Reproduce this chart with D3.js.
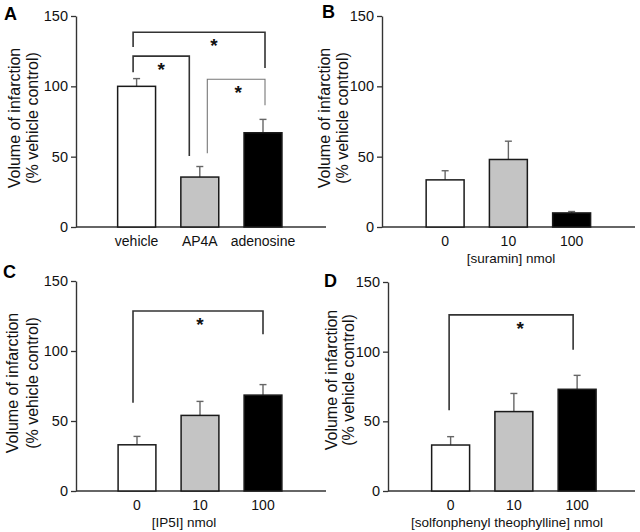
<!DOCTYPE html>
<html>
<head>
<meta charset="utf-8">
<script src="https://cdn.jsdelivr.net/npm/d3@7"></script>
<style>
  html, body { margin: 0; padding: 0; background: #fff; }
  svg { display: block; font-family: "Liberation Sans", Arial, Helvetica, sans-serif; }
</style>
</head>
<body>
<svg id="chart" width="640" height="532"></svg>
<script>
// ---------------- DATA ----------------
const yTickValues = [0, 50, 100, 150];
const yAxisLabelLine1 = "Volume of infarction";
const yAxisLabelLine2 = "(% vehicle control)";

const categoriesA = ["vehicle", "AP4A", "adenosine"];
const meansA = [100, 35.5, 67];
const errorsA = [5.5, 7.5, 9.5];

const doseCategories = ["0", "10", "100"];

const meansB = [33.5, 48, 10];
const errorsB = [6.5, 13, 1];

const meansC = [33, 54, 68.5];
const errorsC = [6, 10, 7.5];

const meansD = [33, 57, 73];
const errorsD = [6, 13, 10];

const barFills = ["#ffffff", "#c4c4c4", "#000000"];

// significance brackets: [fromIndex, toIndex, topValue, leftLegEndValue, rightLegEndValue]
const bracketsA = [[0, 2, 138.5, 128, 113], [0, 1, 121.5, 110, 50.5], [1, 2, 105, 52.5, 86.5]];
const bracketsC = [[0, 2, 128.6, 63, 112]];
const bracketsD = [[0, 2, 126.4, 58, 101.4]];

// ---------------- LAYOUT ----------------
const panels = [
  { letter: "A", lx: 4, ly: 20, cats: categoriesA, means: meansA, errs: errorsA, brackets: bracketsA,
    x0: 76, x1: 326, yTop: 16, yBot: 227, barStart: 29, step: 63.2,
    labelBase: [20, 38], labelCy: 118, xlabel: null,
    bracketDx: [[-3.5, 2, 15], [-3.5, -10.5, 0], [7.5, 2, 2]], bracketStyle: ["#333", "#333", "#777"], bracketW: [1.6, 1.6, 1.1] },
  { letter: "B", lx: 322, ly: 18, cats: doseCategories, means: meansB, errs: errorsB, brackets: [],
    x0: 382, x1: 635, yTop: 16, yBot: 227, barStart: 31.5, step: 63.25,
    labelBase: [330, 348], labelCy: 118, xlabel: "[suramin] nmol", xlabelX: 511, xlabelY: 263 },
  { letter: "C", lx: 3, ly: 278, cats: doseCategories, means: meansC, errs: errorsC, brackets: bracketsC,
    x0: 76, x1: 326, yTop: 281, yBot: 491, barStart: 29.5, step: 63,
    labelBase: [18, 38], labelCy: 383, xlabel: "[IP5I] nmol", xlabelX: 184, xlabelY: 527,
    bracketDx: [[-4, 0, 2]], bracketStyle: ["#333"], bracketW: [1.6] },
  { letter: "D", lx: 324, ly: 287, cats: doseCategories, means: meansD, errs: errorsD, brackets: bracketsD,
    x0: 388, x1: 635, yTop: 282, yBot: 491, barStart: 31, step: 63.25,
    labelBase: [337, 354], labelCy: 380, xlabel: "[solfonphenyl theophylline] nmol", xlabelX: 507, xlabelY: 527,
    bracketDx: [[-1.5, -4, 9]], bracketStyle: ["#333"], bracketW: [1.6] }
];

const svg = d3.select("#chart");

panels.forEach(p => {
  const g = svg.append("g");
  const y = d3.scaleLinear().domain([0, 150]).range([p.yBot, p.yTop]);
  const xStart = p.x0 + p.barStart;
  const x = d3.scaleBand().domain(p.cats)
    .range([xStart, xStart + 3 * p.step])
    .paddingInner(0.4).paddingOuter(0.2);

  // y axis
  const yAxis = d3.axisLeft(y).tickValues(yTickValues).tickSize(5).tickSizeOuter(0).tickPadding(3);
  const ya = g.append("g").attr("transform", `translate(${p.x0},0)`).call(yAxis);
  ya.select(".domain").attr("stroke", "#333").attr("stroke-width", 1.4);
  ya.selectAll(".tick line").attr("stroke", "#333").attr("stroke-width", 1.3);
  ya.selectAll(".tick text").attr("font-size", 14.5).attr("fill", "#111")
    .attr("font-family", "Liberation Sans, Arial, sans-serif");

  // x baseline
  g.append("line").attr("x1", p.x0).attr("x2", p.x1)
    .attr("y1", y(0)).attr("y2", y(0))
    .attr("stroke", "#333").attr("stroke-width", 1.4);

  // x tick labels
  const xAxis = d3.axisBottom(x).tickSize(0).tickPadding(9);
  const xa = g.append("g").attr("transform", `translate(0,${y(0)})`).call(xAxis);
  xa.select(".domain").remove();
  xa.selectAll(".tick text").attr("font-size", 14).attr("fill", "#111")
    .attr("font-family", "Liberation Sans, Arial, sans-serif");

  // error bars (upper only)
  const capHalf = 3.5;
  p.cats.forEach((c, i) => {
    const cx = x(c) + x.bandwidth() / 2;
    const top = y(p.means[i] + p.errs[i]);
    g.append("line").attr("x1", cx).attr("x2", cx).attr("y1", y(p.means[i])).attr("y2", top)
      .attr("stroke", "#666").attr("stroke-width", 1.4);
    g.append("line").attr("x1", cx - capHalf).attr("x2", cx + capHalf).attr("y1", top).attr("y2", top)
      .attr("stroke", "#666").attr("stroke-width", 1.4);
  });

  // bars
  g.selectAll("rect.bar").data(p.means).enter().append("rect")
    .attr("class", "bar")
    .attr("x", (d, i) => x(p.cats[i]))
    .attr("y", d => y(d))
    .attr("width", x.bandwidth())
    .attr("height", d => y(0) - y(d))
    .attr("fill", (d, i) => barFills[i])
    .attr("stroke", "#1a1a1a").attr("stroke-width", 1.5);

  // significance brackets
  p.brackets.forEach((b, k) => {
    const [fi, ti, topV, lEnd, rEnd] = b;
    const [dxl, dxr, sdx] = p.bracketDx[k];
    const xl = x(p.cats[fi]) + x.bandwidth() / 2 + dxl;
    const xr = x(p.cats[ti]) + x.bandwidth() / 2 + dxr;
    const yt = y(topV);
    g.append("path")
      .attr("d", `M${xl},${y(lEnd)}V${yt}H${xr}V${y(rEnd)}`)
      .attr("fill", "none").attr("stroke", p.bracketStyle[k]).attr("stroke-width", p.bracketW[k]);
    g.append("text").attr("x", (xl + xr) / 2 + sdx).attr("y", yt + 20)
      .attr("text-anchor", "middle").attr("font-size", 19).attr("font-weight", "bold")
      .attr("fill", "#111").text("*");
  });

  // y axis label (two lines, rotated)
  [yAxisLabelLine1, yAxisLabelLine2].forEach((t, k) => {
    g.append("text")
      .attr("transform", `translate(${p.labelBase[k]},${p.labelCy}) rotate(-90)`)
      .attr("text-anchor", "middle").attr("font-size", 16).attr("fill", "#111")
      .text(t);
  });

  // x label
  if (p.xlabel) {
    g.append("text").attr("x", p.xlabelX).attr("y", p.xlabelY)
      .attr("text-anchor", "middle").attr("font-size", 13.5).attr("fill", "#111")
      .text(p.xlabel);
  }

  // panel letter
  g.append("text").attr("x", p.lx).attr("y", p.ly)
    .attr("font-size", 18).attr("font-weight", "bold").attr("fill", "#000")
    .text(p.letter);
});
</script>
</body>
</html>
